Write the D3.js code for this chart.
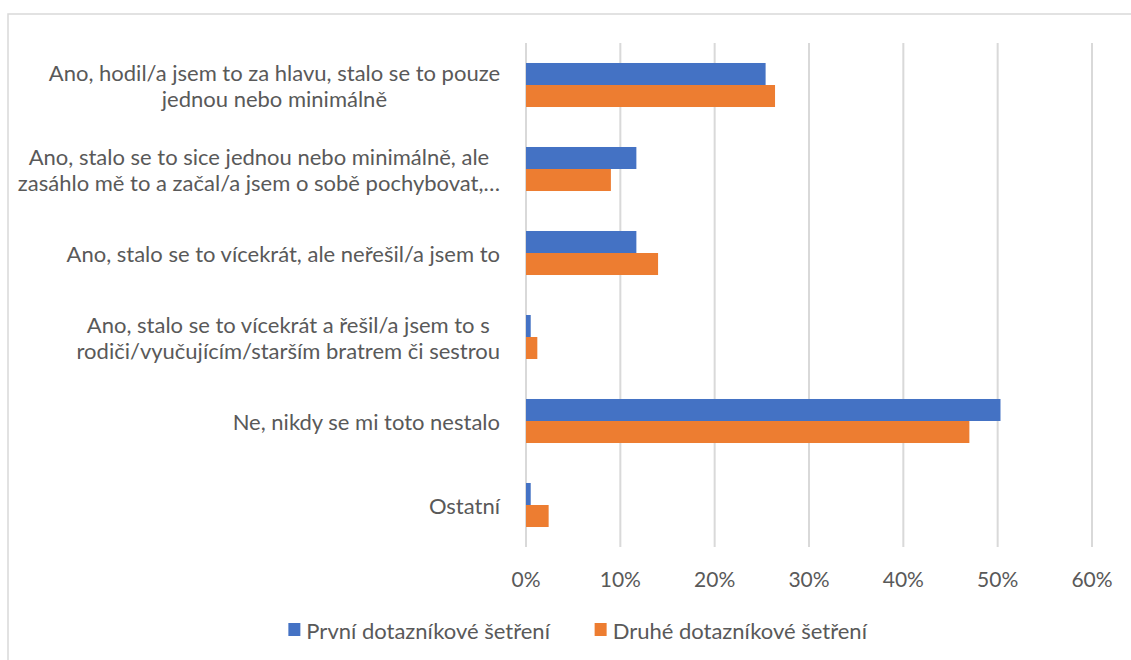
<!DOCTYPE html>
<html>
<head>
<meta charset="utf-8">
<script src="https://cdn.jsdelivr.net/npm/d3@7"></script>
<style>
    body { margin: 0; background: #fff; }
    svg text { font-family: Lato, "Open Sans", sans-serif; fill: #595959; }
</style>
</head>
<body>
<svg width="1131" height="660"></svg>
<script>
// category labels, already wrapped the way the original shows them
const categories = [
    ["Ano, hodil/a jsem to za hlavu, stalo se to pouze", "jednou nebo minimálně"],
    ["Ano, stalo se to sice jednou nebo minimálně, ale", "zasáhlo mě to a začal/a jsem o sobě pochybovat,…"],
    ["Ano, stalo se to vícekrát, ale neřešil/a jsem to"],
    ["Ano, stalo se to vícekrát a řešil/a jsem to s", "rodiči/vyučujícím/starším bratrem či sestrou"],
    ["Ne, nikdy se mi toto nestalo"],
    ["Ostatní"]
];
const seriesNames = ["První dotazníkové šetření", "Druhé dotazníkové šetření"];
const prvni = [25.4, 11.7, 11.7, 0.5, 50.3, 0.5];
const druhe = [26.4, 9.0, 14.0, 1.2, 47.0, 2.4];
const xTicks = [0, 10, 20, 30, 40, 50, 60];

const colors = ["#4472C4", "#ED7D31"];

const svg = d3.select("svg");
const width = +svg.attr("width");
const height = +svg.attr("height");

// chart border (only top and left edges are visible in the picture)
svg.append("rect")
    .attr("x", 8)
    .attr("y", 14)
    .attr("width", width)
    .attr("height", height)
    .attr("fill", "#fff")
    .attr("stroke", "#d9d9d9")
    .attr("stroke-width", 1.5);

const x = d3.scaleLinear()
    .domain([0, 60])
    .range([526, 1092]);

const catIdx = categories.map((d, i) => i);
const y = d3.scaleBand()
    .domain(catIdx)
    .range([43, 547])
    .paddingInner(0.476)
    .paddingOuter(0.238);

const ySub = d3.scaleBand()
    .domain([0, 1])
    .range([0, y.bandwidth()]);

// gridlines
svg.append("g")
    .selectAll("line")
    .data(xTicks)
    .enter().append("line")
    .attr("x1", d => x(d))
    .attr("x2", d => x(d))
    .attr("y1", 43)
    .attr("y2", 547)
    .attr("stroke", "#d9d9d9")
    .attr("stroke-width", 2);

// bars
const rows = catIdx.map(i => [prvni[i], druhe[i]]);
svg.append("g")
    .selectAll("g")
    .data(rows)
    .enter().append("g")
    .attr("transform", (d, i) => `translate(0,${y(i)})`)
    .selectAll("rect")
    .data(d => d)
    .enter().append("rect")
    .attr("x", x(0))
    .attr("y", (d, j) => ySub(j))
    .attr("width", d => x(d) - x(0))
    .attr("height", ySub.bandwidth())
    .attr("fill", (d, j) => colors[j]);

// x tick labels
svg.append("g")
    .selectAll("text")
    .data(xTicks)
    .enter().append("text")
    .attr("x", d => x(d))
    .attr("y", 578)
    .attr("text-anchor", "middle")
    .attr("dominant-baseline", "central")
    .style("font-size", "21px")
    .text(d => d + "%");

// category labels, each block centred on itself and pushed to the right edge
const labelRight = 500;
const lineH = 26;
categories.forEach((lines, i) => {
    const g = svg.append("g");
    const cy = y(i) + y.bandwidth() / 2;
    const texts = g.selectAll("text")
        .data(lines)
        .enter().append("text")
        .attr("y", (d, k) => cy + (k - (lines.length - 1) / 2) * lineH)
        .attr("dominant-baseline", "central")
        .attr("text-anchor", "middle")
        .style("font-size", "22px")
        .text(d => d);
    let maxW = 0;
    texts.each(function () { maxW = Math.max(maxW, this.getComputedTextLength()); });
    texts.attr("x", labelRight - maxW / 2);
});

// legend
const legend = svg.append("g");
const items = legend.selectAll("g")
    .data(seriesNames)
    .enter().append("g");
items.append("rect")
    .attr("width", 12)
    .attr("height", 13)
    .attr("y", 623)
    .attr("fill", (d, i) => colors[i]);
items.append("text")
    .attr("x", 18)
    .attr("y", 630)
    .attr("dominant-baseline", "central")
    .style("font-size", "22px")
    .text(d => d);

let offsets = [], pos = 0;
items.each(function () {
    offsets.push(pos);
    pos += this.getBBox().width + 44;
});
const totalW = pos - 44;
const startX = 578 - totalW / 2;
items.attr("transform", (d, i) => `translate(${startX + offsets[i]},0)`);
</script>
</body>
</html>
